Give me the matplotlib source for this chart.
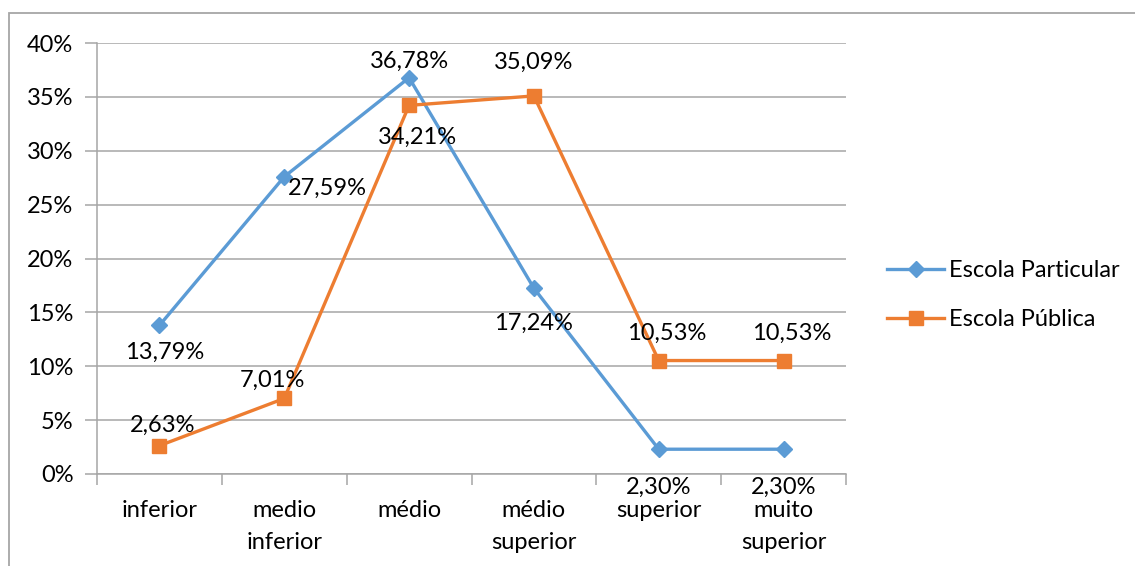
import matplotlib
matplotlib.use("Agg")
import matplotlib.pyplot as plt
from matplotlib.patches import Rectangle

categories = ["inferior", "medio\ninferior", "médio", "médio\nsuperior", "superior", "muito\nsuperior"]
particular = [13.79, 27.59, 36.78, 17.24, 2.30, 2.30]
publica = [2.63, 7.01, 34.21, 35.09, 10.53, 10.53]
series_names = ["Escola Particular", "Escola Pública"]
yticks = [0, 5, 10, 15, 20, 25, 30, 35, 40]

# label offsets (pixels) for each data label
part_offsets = [(5, -27), (43, -12), (0, 16), (0, -35), (0, -38), (0, -38)]
pub_offsets = [(3, 20), (-12, 18), (8, -32), (0, 34), (8, 27), (8, 27)]

plt.rcParams["font.family"] = ["Lato", "DejaVu Sans"]
FS = 17
BLUE = "#5B9BD5"
ORANGE = "#ED7D31"
GRID = "#A6A6A6"

W, H = 1135, 566
fig = plt.figure(figsize=(W / 100, H / 100), dpi=100)
fig.patch.set_facecolor("white")

# outer chart border
fig.patches.append(Rectangle((9 / W, -0.1), 1.2, (H - 13) / H + 0.1,
                             transform=fig.transFigure, fill=False,
                             edgecolor=GRID, linewidth=1.3))

ax = fig.add_axes([97 / W, (H - 474) / H, (846 - 97) / W, (474 - 43) / H])
x = list(range(len(categories)))

ax.plot(x, particular, color=BLUE, lw=2.4, marker="D", ms=8.5,
        label=series_names[0], zorder=3)
ax.plot(x, publica, color=ORANGE, lw=2.4, marker="s", ms=9.8,
        label=series_names[1], zorder=4)

def fmt(v):
    return f"{v:.2f}".replace(".", ",") + "%"

for xi, v, off in zip(x, particular, part_offsets):
    ax.annotate(fmt(v), (xi, v), xytext=off, textcoords="offset pixels",
                ha="center", va="center", fontsize=FS, color="black",
                annotation_clip=False, zorder=5)
for xi, v, off in zip(x, publica, pub_offsets):
    ax.annotate(fmt(v), (xi, v), xytext=off, textcoords="offset pixels",
                ha="center", va="center", fontsize=FS, color="black",
                annotation_clip=False, zorder=5)

ax.set_xlim(-0.5, len(categories) - 0.5)
ax.set_ylim(0, 40)
ax.set_yticks(yticks)
ax.set_yticklabels([f"{t}%" for t in yticks], fontsize=FS)
ax.yaxis.grid(True, color=GRID, lw=1.1)
ax.set_axisbelow(True)

ax.set_xticks([i - 0.5 for i in range(len(categories) + 1)])
ax.set_xticklabels([])
ax.set_xticks(x, minor=True)
ax.set_xticklabels(categories, minor=True, fontsize=FS, linespacing=1.6, va="top")
ax.tick_params(axis="x", which="major", length=8, width=1.1, color=GRID, direction="out")
ax.tick_params(axis="x", which="minor", length=0, pad=19)
ax.tick_params(axis="y", length=9, width=1.1, color=GRID, pad=8)

for s in ["top", "right"]:
    ax.spines[s].set_visible(False)
for s in ["left", "bottom"]:
    ax.spines[s].set_color(GRID)
    ax.spines[s].set_linewidth(1.1)

leg = fig.legend(loc="center left", bbox_to_anchor=(878 / W, (H - 295) / H),
                 frameon=False, fontsize=FS, handlelength=2.4, handletextpad=0.2,
                 labelspacing=1.2, borderaxespad=0)

fig.savefig("out.png", dpi=100, facecolor="white")
